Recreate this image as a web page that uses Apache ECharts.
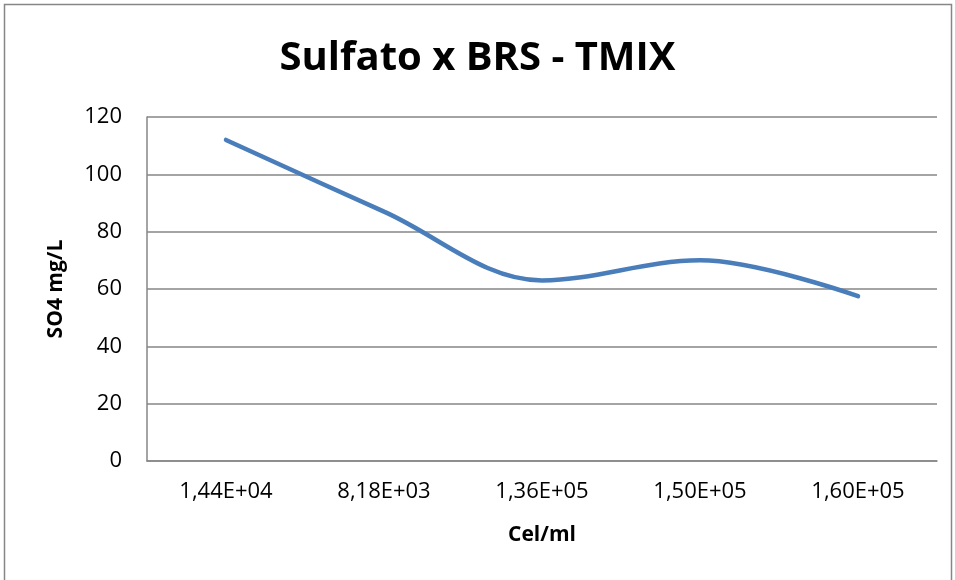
<!DOCTYPE html>
<html>
<head>
<meta charset="utf-8">
<script src="https://cdn.jsdelivr.net/npm/echarts@6/dist/echarts.min.js"></script>
<style>
  html, body { margin: 0; padding: 0; background: #fff; }
  #chart { width: 955px; height: 580px; }
</style>
</head>
<body>
<div id="chart"></div>
<script>
// dados
var categorias = ["1,44E+04", "8,18E+03", "1,36E+05", "1,50E+05", "1,60E+05"];
var sulfato = [112, 87, 63, 70, 57.5];
var yTicks = [0, 20, 40, 60, 80, 100, 120];

var chart = echarts.init(document.getElementById("chart"));
var fonte = "'Open Sans', 'Liberation Sans', sans-serif";

var option = {
  backgroundColor: "#fff",
  animation: false,
  title: {
    text: "Sulfato x BRS - TMIX",
    left: "center",
    top: 34,
    textStyle: {
      fontFamily: fonte,
      fontSize: 40,
      fontWeight: "bold",
      color: "#000"
    }
  },
  grid: {
    left: 147,
    right: 18,
    top: 117,
    bottom: 119
  },
  xAxis: {
    type: "category",
    data: categorias,
    boundaryGap: true,
    name: "Cel/ml",
    nameLocation: "middle",
    nameGap: 64,
    nameTextStyle: {
      fontFamily: fonte,
      fontSize: 21,
      fontWeight: "bold",
      color: "#000"
    },
    axisLine: { lineStyle: { color: "#868686", width: 1.5 } },
    axisTick: { show: false },
    axisLabel: {
      fontFamily: fonte,
      fontSize: 22,
      color: "#000",
      margin: 20
    }
  },
  yAxis: {
    type: "value",
    min: yTicks[0],
    max: yTicks[yTicks.length - 1],
    interval: 20,
    name: "SO4 mg/L",
    nameLocation: "middle",
    nameGap: 80,
    nameTextStyle: {
      fontFamily: fonte,
      fontSize: 21,
      fontWeight: "bold",
      color: "#000"
    },
    axisLine: { show: true, lineStyle: { color: "#868686", width: 1.5 } },
    axisTick: { show: false },
    splitLine: { lineStyle: { color: "#868686", width: 1.5 } },
    axisLabel: {
      fontFamily: fonte,
      fontSize: 22,
      color: "#000",
      margin: 25
    }
  },
  series: [
    {
      name: "Sulfato",
      type: "line",
      data: sulfato,
      smooth: 0.35,
      showSymbol: false,
      lineStyle: { color: "#4a7ebb", width: 4.5, cap: "round" }
    }
  ],
  graphic: [
    {
      type: "rect",
      shape: { x: 4.5, y: 4.5, width: 947, height: 580 },
      style: { fill: null, stroke: "#868686", lineWidth: 1.5 },
      silent: true
    }
  ]
};

chart.setOption(option);
</script>
</body>
</html>
